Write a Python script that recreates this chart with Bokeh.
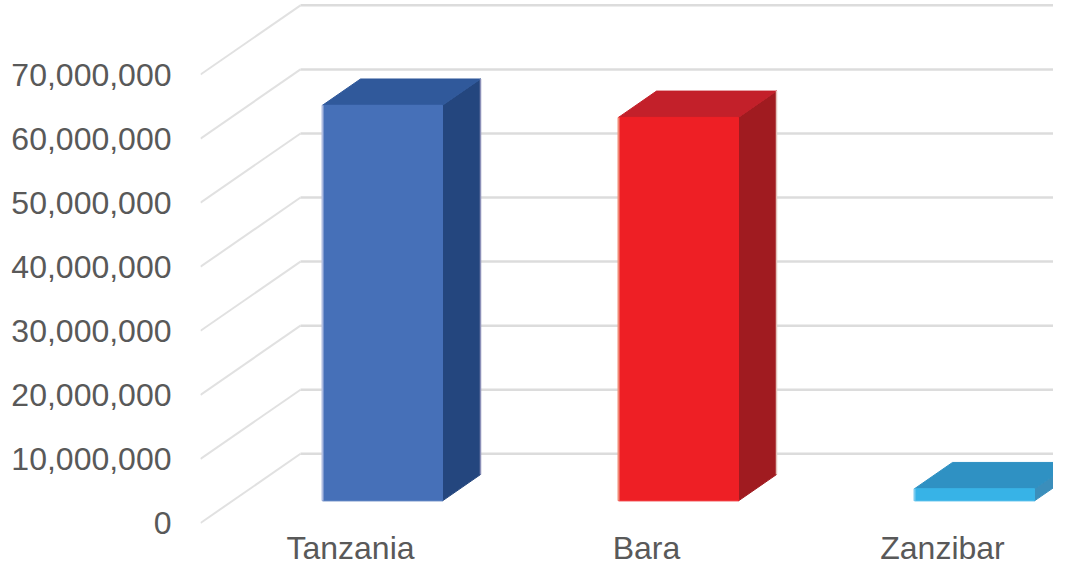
from bokeh.plotting import figure
from bokeh.models import Range1d, FixedTicker
from bokeh.core.properties import value
from bokeh.embed import file_html
from bokeh.resources import INLINE

# ---------------- data ----------------
categories = ["Tanzania", "Bara", "Zanzibar"]
population = [61741120, 59851347, 1889773]
tick_values = [0, 10000000, 20000000, 30000000, 40000000, 50000000, 60000000, 70000000]
tick_labels = ["0", "10,000,000", "20,000,000", "30,000,000", "40,000,000",
               "50,000,000", "60,000,000", "70,000,000"]
front_colors = ["#4670B8", "#EE1F25", "#37B3E7"]
top_colors = ["#30599B", "#C3202A", "#2F91C3"]
side_colors = ["#24467E", "#A01B20", "#3B8EBB"]
left_edge_colors = ["#AEBBE0", "#F28B78", "#7CCBEF"]
right_edge_colors = ["#8C90B8", "#E3C4BC", "#9CC6DE"]

# ---------------- layout helpers (pixels -> data) ----------------
W, H = 1053, 567
LEFT = 200                 # frame left edge, px
XPX = 1.0 / 296.0          # category units per pixel
VPX = 10e6 / 64.07         # value units per pixel
ZERO = 522.5               # pixel row of value 0 on the front plane
x_start, x_end = -150 * XPX, (W - 350) * XPX
y_start, y_end = -(H - ZERO) * VPX, ZERO * VPX
DX, DY = 100 * XPX, 69.2 * VPX     # full depth of the floor / wall
F_FRONT, F_BACK = 0.32, 0.70       # bar front/back depth fractions
HALF = 60 * XPX

p = figure(width=W, height=H, output_backend="svg", toolbar_location=None,
           x_range=Range1d(x_start, x_end), y_range=Range1d(y_start, y_end),
           min_border_left=LEFT, min_border_right=0, min_border_top=0, min_border_bottom=0)
p.outline_line_color = None
p.background_fill_color = "white"
p.border_fill_color = "white"
p.xgrid.visible = False
p.ygrid.visible = False
p.xaxis.visible = False

yax = p.yaxis[0]
yax.ticker = FixedTicker(ticks=tick_values)
yax.major_label_overrides = {v: s for v, s in zip(tick_values, tick_labels)}
yax.axis_line_color = None
yax.major_tick_line_color = None
yax.minor_tick_line_color = None
yax.major_label_standoff = 23
yax.major_label_text_font = "Liberation Sans"
yax.major_label_text_font_size = "32px"
yax.major_label_text_color = "#595959"

# ---------------- 3D gridlines ----------------
diag_xs, diag_ys, back_xs, back_ys = [], [], [], []
for t in tick_values:
    diag_xs.append([x_start, x_start + DX])
    diag_ys.append([t, t + DY])
    back_xs.append([x_start + DX, x_end + 0.1])
    back_ys.append([t + DY, t + DY])
p.multi_line(diag_xs, diag_ys, line_color="#E1E1E1", line_width=2)
p.multi_line(back_xs, back_ys, line_color="#DCDCDC", line_width=2.5)

# ---------------- 3D bars ----------------
xs = list(range(len(categories)))
fx0 = [x + F_FRONT * DX - HALF for x in xs]
fx1 = [x + F_FRONT * DX + HALF for x in xs]
fy0 = [F_FRONT * DY for _ in xs]
fy1 = [v + F_FRONT * DY for v in population]
bdx = (F_BACK - F_FRONT) * DX
bdy = (F_BACK - F_FRONT) * DY

top_x = [[a, b, b + bdx, a + bdx] for a, b in zip(fx0, fx1)]
top_y = [[t, t, t + bdy, t + bdy] for t in fy1]
side_x = [[b, b, b + bdx, b + bdx] for b in fx1]
side_y = [[y0, y1, y1 + bdy, y0 + bdy] for y0, y1 in zip(fy0, fy1)]

p.patches(side_x, side_y, fill_color=side_colors, line_color=side_colors, line_width=1)
p.patches(top_x, top_y, fill_color=top_colors, line_color=top_colors, line_width=1)
p.quad(left=fx0, right=fx1, bottom=fy0, top=fy1, fill_color=front_colors,
       line_color=front_colors, line_width=1)
# edge highlights
p.segment(x0=fx0, y0=fy0, x1=fx0, y1=fy1, line_color=left_edge_colors, line_width=2)
p.segment(x0=[b + bdx for b in fx1], y0=[y + bdy for y in fy0],
          x1=[b + bdx for b in fx1], y1=[y + bdy for y in fy1],
          line_color=right_edge_colors, line_width=1.5)

# ---------------- category labels ----------------
p.text(x=xs, y=[-(565 - ZERO) * VPX] * len(xs), text=categories, text_align="center",
       text_baseline="bottom", text_font=value("Liberation Sans"),
       text_font_size="32px", text_color="#595959")

open("out.html", "w").write(file_html(p, INLINE))
